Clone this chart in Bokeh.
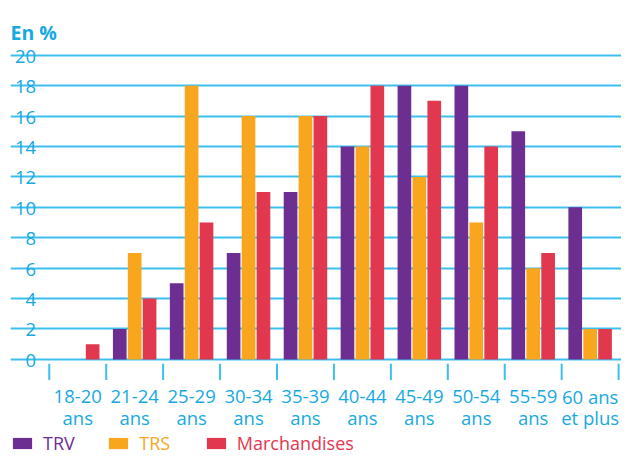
from bokeh.plotting import figure
from bokeh.models import Range1d, FixedTicker, Grid, Legend, LegendItem, ColumnDataSource
from bokeh.core.properties import value
from bokeh.embed import file_html
from bokeh.resources import INLINE

categories = ["18-20\nans", "21-24\nans", "25-29\nans", "30-34\nans", "35-39\nans",
              "40-44\nans", "45-49\nans", "50-54\nans", "55-59\nans", "60 ans\net plus"]
trv = [0, 2, 5, 7, 11, 14, 18, 18, 15, 10]
trs = [0, 7, 18, 16, 16, 14, 12, 9, 6, 2]
marchandises = [1, 4, 9, 11, 16, 18, 17, 14, 7, 2]
series_names = ["TRV", "TRS", "Marchandises"]
y_ticks = [0, 2, 4, 6, 8, 10, 12, 14, 16, 18, 20]
unit_label = "En %"

CYAN = "#17a9e1"
GRID = "#3cbfed"
COLORS = ["#6c2e91", "#f8a61d", "#e1374f"]
FONT = "Open Sans"

W, H = 621, 457
p = figure(width=W, height=H, output_backend="svg", toolbar_location=None,
           x_range=Range1d(-0.681, 10.051), y_range=Range1d(-6.45, 23.60),
           x_axis_location=None, y_axis_location=None,
           min_border_left=10, min_border_right=0,
           min_border_top=0, min_border_bottom=0)
p.outline_line_color = None
p.background_fill_color = "white"
p.border_fill_color = "white"
p.grid.visible = False

p.add_layout(Grid(dimension=1, ticker=FixedTicker(ticks=y_ticks),
                  grid_line_color=GRID, grid_line_width=2))

n = len(categories)
centers = [i + 0.5 for i in range(n)]
offsets = [-0.262, 0.0, 0.262]
renderers = []
for vals, off, col in zip([trv, trs, marchandises], offsets, COLORS):
    src = ColumnDataSource(dict(x=[c + off for c in centers], top=vals))
    r = p.vbar(x="x", top="top", bottom=0, width=0.24, source=src,
               fill_color=col, line_color=None)
    renderers.append(r)

# y tick labels sitting on the grid lines
ysrc = ColumnDataSource(dict(x=[-0.231] * len(y_ticks), y=y_ticks,
                             t=[str(v) for v in y_ticks]))
p.text(x="x", y="y", text="t", source=ysrc, text_align="right",
       text_baseline="alphabetic", y_offset=1, text_color=CYAN,
       text_font=value(FONT), text_font_size="18.5px")

# unit label
p.text(x=[-0.681], y=[21.5], text=[unit_label], text_align="left",
       text_baseline="alphabetic", text_color=CYAN,
       text_font=value(FONT), text_font_size="19.5px", text_font_style="bold")

# category separators below the axis line
bounds = list(range(n + 1))
p.segment(x0=bounds, x1=bounds, y0=[-0.28] * len(bounds), y1=[-1.36] * len(bounds),
          line_color=GRID, line_width=2)

# category labels (two lines)
line1 = [c.split("\n")[0] for c in categories]
line2 = [c.split("\n")[1] for c in categories]
p.text(x=centers, y=[-2.45] * n, text=line1, text_align="center",
       text_baseline="alphabetic", text_color=CYAN, text_font=value(FONT),
       text_font_size="18.5px")
p.text(x=centers, y=[-3.84] * n, text=line2, text_align="center",
       text_baseline="alphabetic", text_color=CYAN, text_font=value(FONT),
       text_font_size="18.5px")

legend_x = [0, 96.3, 193.8]
for name, r, col, lx in zip(series_names, renderers, COLORS, legend_x):
    lg = Legend(items=[LegendItem(label=name, renderers=[r])],
                location=(lx, 2), orientation="horizontal",
                padding=0, margin=0, spacing=0,
                glyph_width=24, glyph_height=14, label_height=14,
                label_standoff=9, label_text_color=col,
                label_text_font=FONT, label_text_font_size="18px",
                border_line_color=None, background_fill_alpha=0)
    p.add_layout(lg, "center")

open("out.html", "w").write(file_html(p, INLINE))
